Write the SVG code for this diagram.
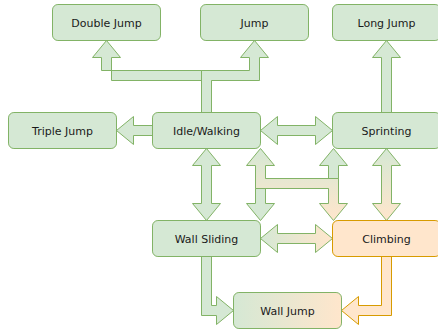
<svg xmlns="http://www.w3.org/2000/svg" width="438" height="333" viewBox="0 0 438 333">
<style>
.n{fill:#d5e8d4;stroke:#82b366;stroke-width:1}
.o{fill:#ffe6cc;stroke:#d79b00;stroke-width:1}
.a{fill:#d5e8d4;stroke:#82b366;stroke-width:1;stroke-linejoin:miter}
.ao{fill:#ffe6cc;stroke:#d79b00;stroke-width:1}
text{font-family:"DejaVu Sans",Verdana,sans-serif;font-size:11px;fill:#1a1a1a;text-anchor:middle}
</style>
<defs>
<linearGradient id="gv1" gradientUnits="userSpaceOnUse" x1="0" y1="148.5" x2="0" y2="220.5"><stop offset="0" stop-color="#d5e8d4"/><stop offset="1" stop-color="#ffe6cc"/></linearGradient>
<linearGradient id="gh1" gradientUnits="userSpaceOnUse" x1="260.5" y1="0" x2="332.5" y2="0"><stop offset="0" stop-color="#d5e8d4"/><stop offset="1" stop-color="#ffe6cc"/></linearGradient>
<linearGradient id="gwj" x1="0" y1="0" x2="1" y2="0"><stop offset="0" stop-color="#d5e8d4"/><stop offset="1" stop-color="#ffe6cc"/></linearGradient>
</defs>
<g id="connectors">
<polygon class="a" points="201.5,112.5 201.5,80.5 111.5,80.5 111.5,57.5 120.5,57.5 106.5,40.5 92.5,57.5 101.5,57.5 101.5,70.5 211.5,70.5 211.5,112.5"/>
<polygon class="a" points="201.5,112.5 201.5,70.5 249.5,70.5 249.5,57.5 240.5,57.5 254.5,40.5 268.5,57.5 259.5,57.5 259.5,80.5 211.5,80.5 211.5,112.5"/>
<polygon class="a" points="381.5,112.5 381.5,57.5 372.5,57.5 386.5,40.5 400.5,57.5 391.5,57.5 391.5,112.5"/>
<polygon class="a" points="152.5,125.5 133.5,125.5 133.5,116.5 116.5,130.5 133.5,144.5 133.5,135.5 152.5,135.5"/>
<polygon class="a" points="260.5,130.5 277.5,116.5 277.5,125.5 315.5,125.5 315.5,116.5 332.5,130.5 315.5,144.5 315.5,135.5 277.5,135.5 277.5,144.5"/>
<polygon class="a" points="206.5,148.5 220.5,165.5 211.5,165.5 211.5,203.5 220.5,203.5 206.5,220.5 192.5,203.5 201.5,203.5 201.5,165.5 192.5,165.5"/>
<polygon class="a" style="fill:url(#gv1)" points="386.5,148.5 400.5,165.5 391.5,165.5 391.5,203.5 400.5,203.5 386.5,220.5 372.5,203.5 381.5,203.5 381.5,165.5 372.5,165.5"/>
<polygon class="a" points="333.5,148.5 347.5,165.5 338.5,165.5 338.5,188.5 265.5,188.5 265.5,203.5 274.5,203.5 260.5,220.5 246.5,203.5 255.5,203.5 255.5,178.5 328.5,178.5 328.5,165.5 319.5,165.5"/>
<polygon class="a" style="fill:url(#gv1)" points="260.5,148.5 274.5,165.5 265.5,165.5 265.5,178.5 338.5,178.5 338.5,203.5 347.5,203.5 333.5,220.5 319.5,203.5 328.5,203.5 328.5,188.5 255.5,188.5 255.5,165.5 246.5,165.5"/>
<polygon class="a" style="fill:url(#gh1)" points="260.5,238.5 277.5,224.5 277.5,233.5 315.5,233.5 315.5,224.5 332.5,238.5 315.5,252.5 315.5,243.5 277.5,243.5 277.5,252.5"/>
<polygon class="a" points="201.5,256.5 201.5,315.5 216.5,315.5 216.5,324.5 233.5,310.5 216.5,296.5 216.5,305.5 211.5,305.5 211.5,256.5"/>
<polygon class="ao" points="381.5,256.5 381.5,305.5 358.5,305.5 358.5,296.5 341.5,310.5 358.5,324.5 358.5,315.5 391.5,315.5 391.5,256.5"/>
</g>
<g id="double-jump"><rect class="n" x="52.5" y="4.5" width="108" height="36" rx="5.4"/><text x="106.5" y="26.5">Double Jump</text></g>
<g id="jump"><rect class="n" x="200.5" y="4.5" width="108" height="36" rx="5.4"/><text x="254.5" y="26.5">Jump</text></g>
<g id="long-jump"><rect class="n" x="332.5" y="4.5" width="108" height="36" rx="5.4"/><text x="386.5" y="26.5">Long Jump</text></g>
<g id="triple-jump"><rect class="n" x="8.5" y="112.5" width="108" height="36" rx="5.4"/><text x="62.5" y="134.5">Triple Jump</text></g>
<g id="idle-walking"><rect class="n" x="152.5" y="112.5" width="108" height="36" rx="5.4"/><text x="206.5" y="134.5">Idle/Walking</text></g>
<g id="sprinting"><rect class="n" x="332.5" y="112.5" width="108" height="36" rx="5.4"/><text x="386.5" y="134.5">Sprinting</text></g>
<g id="wall-sliding"><rect class="n" x="152.5" y="220.5" width="108" height="36" rx="5.4"/><text x="206.5" y="242.5">Wall Sliding</text></g>
<g id="climbing"><rect class="o" x="332.5" y="220.5" width="108" height="36" rx="5.4"/><text x="386.5" y="242.5">Climbing</text></g>
<g id="wall-jump"><rect class="n" style="fill:url(#gwj)" x="233.5" y="292.5" width="108" height="36" rx="5.4"/><text x="287.5" y="314.5">Wall Jump</text></g>
</svg>
